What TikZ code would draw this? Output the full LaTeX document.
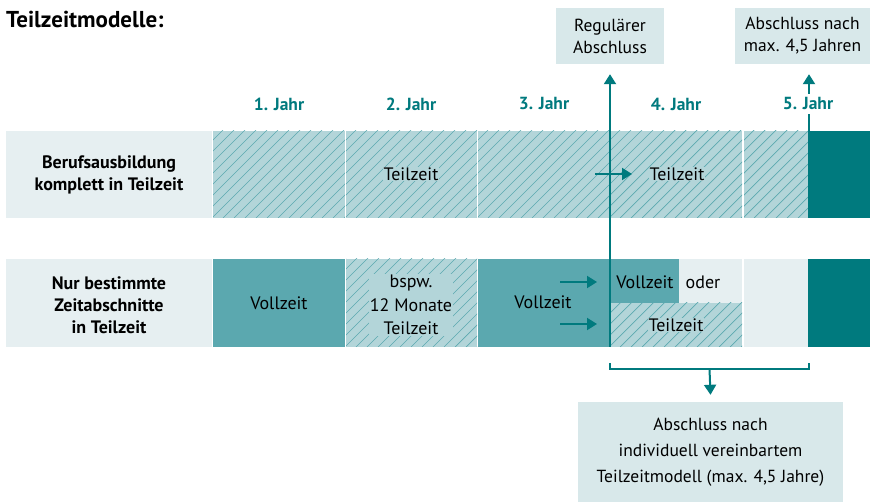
\documentclass[tikz,border=0pt]{standalone}
\usepackage{fontspec}
\setmainfont{PT Sans}
\usetikzlibrary{arrows.meta, positioning}

\definecolor{lightbox}{HTML}{E6EFF1}
\definecolor{notebox}{HTML}{D8E8EA}
\definecolor{hatchbg}{HTML}{B3D5D9}
\definecolor{hatchline}{HTML}{5CA9B0}
\definecolor{fullteal}{HTML}{5BA8AF}
\definecolor{darkteal}{HTML}{007A7E}

% hatched cell: x1 y1 x2 y2
\newcommand{\hatchrect}[4]{%
  \fill[hatchbg] (#1,#2) rectangle (#3,#4);
  \begin{scope}
    \clip (#1,#2) rectangle (#3,#4);
    \foreach \s in {0,11,...,400}
      \draw[hatchline, line width=0.7pt] (#1+\s-100,#4) -- ++(100,-100);
  \end{scope}
}

\begin{document}
\begin{tikzpicture}[x=1pt, y=-1pt,
  celltext/.style={font=\fontsize{18}{22}\selectfont, align=center, inner sep=1pt},
  onhatch/.style={celltext, fill=hatchbg},
  rowlabel/.style={font=\bfseries\fontsize{18}{22}\selectfont, align=center},
  yearlabel/.style={font=\bfseries\fontsize{17.5}{20}\selectfont, text=darkteal, fill=white, inner sep=4pt},
  notestyle/.style={fill=notebox, font=\fontsize{17.5}{22}\selectfont, align=center, inner sep=0pt},
  tealline/.style={darkteal, line width=2pt},
  tealarrow/.style={tealline, -{Triangle[width=12pt,length=10pt]}}]

  \useasboundingbox (0,0) rectangle (870,502);

  % label boxes
  \fill[lightbox] (6,131) rectangle (212,218);
  \fill[lightbox] (6,259) rectangle (212,347);

  % row 1: komplett in Teilzeit
  \hatchrect{213}{131}{345}{218}
  \hatchrect{346}{131}{477}{218}
  \hatchrect{478}{131}{742}{218}
  \hatchrect{744}{131}{808}{218}
  \fill[darkteal] (808,131) rectangle (870,218);

  % row 2: nur bestimmte Abschnitte
  \fill[fullteal] (213,259) rectangle (345,347);
  \hatchrect{346}{259}{477}{347}
  \fill[fullteal] (478,259) rectangle (679,303);
  \fill[fullteal] (478,303) rectangle (610,347);
  \fill[lightbox] (679,259) rectangle (742,303);
  \hatchrect{610}{303}{742}{347}
  \fill[lightbox] (744,259) rectangle (808,347);
  \fill[darkteal] (808,259) rectangle (870,347);

  % title and notes
  \node[font=\bfseries\fontsize{23}{26}\selectfont, anchor=base west, inner sep=0pt] (title) at (6,28) {Teilzeitmodelle:};
  \node[notestyle, minimum width=108, minimum height=56] (regbox) at (610,36) {Regulärer\\Abschluss};
  \node[notestyle, minimum width=135, minimum height=56] (maxbox) at (802.5,36) {Abschluss nach\\max. 4,5 Jahren};
  \node[notestyle, minimum width=265, minimum height=100, font=\fontsize{17.5}{26}\selectfont] (indbox) at (710.5,452) {Abschluss nach\\individuell vereinbartem\\Teilzeitmodell (max. 4,5 Jahre)};

  % connectors
  \coordinate (regend) at (610,347);
  \coordinate (maxend) at (809,131);
  \draw[tealarrow] (regend) -- ([yshift=-10pt]regbox.south);
  \draw[tealarrow] (maxend) -- ([yshift=-10pt]maxbox.south -| maxend);

  \coordinate (brl) at (610,363);
  \coordinate (brr) at (809,363);
  \coordinate (brmid) at (709.5,369);
  \draw[tealline] (brl) -- ++(0,6) -- ([yshift=-6pt]brr) -- (brr);
  \draw[tealarrow] (brmid) -- ([yshift=7pt]indbox.north);

  % year labels
  \foreach \n/\x in {1/279, 2/411, 3/544, 4/676, 5/808}
    \node[yearlabel] (year\n) at (\x,104) {\n. Jahr};

  % row labels
  \node[rowlabel] (lab1) at (109,175) {Berufsausbildung\\komplett in Teilzeit};
  \node[rowlabel] (lab2) at (109,305) {Nur bestimmte\\Zeitabschnitte\\in Teilzeit};

  % row 1 texts
  \node[onhatch] (teil1) at (411,174) {Teilzeit};
  \node[onhatch] (teil2) at (677,174) {Teilzeit};
  \coordinate (arr1) at (595,174);
  \draw[tealarrow] (arr1) -- ++(37,0);

  % row 2 texts
  \node[celltext] (voll1) at (279,303) {Vollzeit};
  \node[onhatch, font=\fontsize{18}{23.5}\selectfont] (bspw) at (411,305) {bspw.\\12 Monate\\Teilzeit};
  \node[celltext] (voll2) at (543,302) {Vollzeit};
  \node[celltext] (voll3) at (645,282) {Vollzeit};
  \node[celltext] (oder) at (703,282) {oder};
  \node[onhatch] (teil3) at (676,325) {Teilzeit};
  \coordinate (arr2) at (560,282);
  \coordinate (arr3) at (560,324);
  \draw[tealarrow] (arr2) -- ++(37,0);
  \draw[tealarrow] (arr3) -- ++(37,0);

\end{tikzpicture}
\end{document}
